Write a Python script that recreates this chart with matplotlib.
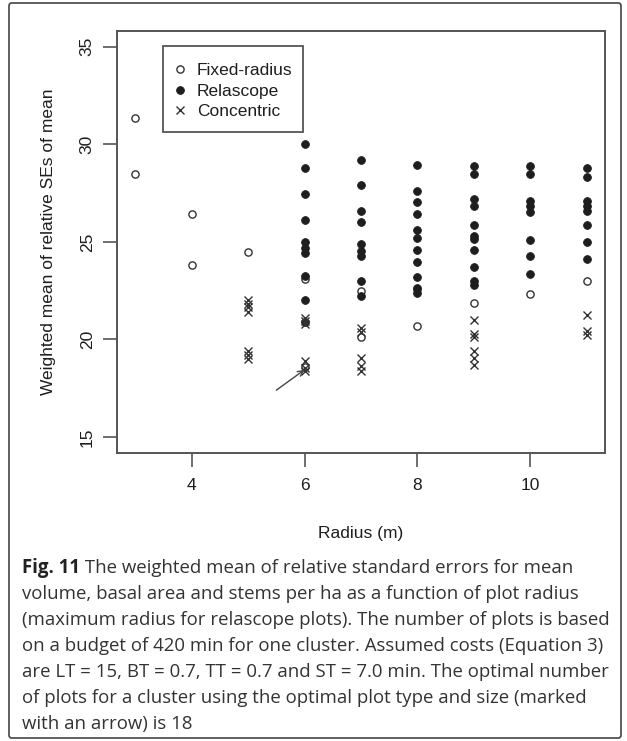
import matplotlib
matplotlib.use("Agg")
import matplotlib.pyplot as plt
from matplotlib.patches import FancyBboxPatch, Rectangle

# data (radius in m, weighted mean of relative SEs)
fixed_x = [3, 3, 4, 4, 5, 6, 6, 7, 7, 8, 8, 9, 10, 11]
fixed_y = [31.35, 28.5, 26.45, 23.8, 24.5, 23.1, 18.6, 22.5, 20.15, 22.6, 20.7, 21.85, 22.35, 23.0]

relas_x = [6] * 10 + [7] * 9 + [8] * 11 + [9] * 11 + [10] * 8 + [11] * 8
relas_y = [30.0, 28.8, 27.45, 26.1, 25.0, 24.7, 24.45, 23.25, 22.0, 20.9,
           29.2, 27.9, 26.6, 26.0, 24.9, 24.55, 24.25, 23.0, 22.25,
           28.95, 27.6, 27.05, 26.45, 25.6, 25.2, 24.6, 23.95, 23.2, 22.65, 22.4,
           28.9, 28.5, 27.2, 26.85, 25.85, 25.3, 25.15, 24.6, 23.7, 23.0, 22.8,
           28.9, 28.45, 27.1, 26.85, 26.55, 25.1, 24.25, 23.35,
           28.8, 28.3, 27.1, 26.85, 26.6, 25.85, 25.0, 24.1]

conc_x = [5] * 7 + [6] * 6 + [7] * 5 + [9] * 6 + [11] * 3
conc_y = [22.0, 21.8, 21.65, 21.4, 19.4, 19.2, 19.0,
          21.1, 20.95, 20.8, 18.9, 18.55, 18.4,
          20.6, 20.4, 19.05, 18.65, 18.4,
          21.0, 20.3, 20.15, 19.4, 19.05, 18.7,
          21.25, 20.45, 20.25]

x_ticks = [4, 6, 8, 10]
y_ticks = [15, 20, 25, 30, 35]
arrow_from = (5.5, 17.4)
arrow_to = (6.0, 18.45)

caption_head = "Fig. 11"
caption_lines = [
    " The weighted mean of relative standard errors for mean",
    "volume, basal area and stems per ha as a function of plot radius",
    "(maximum radius for relascope plots). The number of plots is based",
    "on a budget of 420 min for one cluster. Assumed costs (Equation 3)",
    "are LT = 15, BT = 0.7, TT = 0.7 and ST = 7.0 min. The optimal number",
    "of plots for a cluster using the optimal plot type and size (marked",
    "with an arrow) is 18",
]

W, H = 627, 741
plt.rcParams["font.family"] = ["Liberation Sans", "DejaVu Sans"]
ink = "#1e1e1e"
frame = "#555555"

fig = plt.figure(figsize=(W / 100, H / 100), dpi=100)
ax = fig.add_axes([117 / W, 1 - 452.7 / H, (605 - 117) / W, (452.7 - 31) / H])

h_fixed, = ax.plot(fixed_x, fixed_y, "o", ms=5.2, mfc="white", mec="#333333", mew=1.0,
                   linestyle="none", label="Fixed-radius", zorder=3)
h_relas, = ax.plot(relas_x, relas_y, "o", ms=5.6, mfc=ink, mec=ink, mew=0.6,
                   linestyle="none", label="Relascope", zorder=3)
h_conc, = ax.plot(conc_x, conc_y, "x", ms=6.2, mec="#333333", mew=1.0,
                  linestyle="none", label="Concentric", zorder=3)

ax.annotate("", xy=arrow_to, xytext=arrow_from,
            arrowprops=dict(arrowstyle="->", color="#444444", lw=1.0,
                            mutation_scale=10, shrinkA=0, shrinkB=0))

ax.set_xlim(2.68, 11.32)
ax.set_ylim(14.2, 35.8)
ax.set_xticks(x_ticks)
ax.set_yticks(y_ticks)
ax.set_yticklabels([str(v) for v in y_ticks], rotation=90, va="center")
ax.tick_params(length=10, width=1.2, color=frame, labelsize=12.5, labelcolor=ink, pad=8)
ax.tick_params(axis="y", pad=6)
for s in ax.spines.values():
    s.set_color(frame)
    s.set_linewidth(1.4)
ax.set_xlabel("Radius (m)", fontsize=12.5, color=ink, labelpad=24)
ax.set_ylabel("Weighted mean of relative SEs of mean", fontsize=12.5, color=ink, labelpad=17)

# legend: box drawn separately so its size matches the reference
fig.patches.append(Rectangle((163.3 / W, 1 - 132.3 / H), (302.7 - 163.3) / W, (132.3 - 46) / H,
                             transform=fig.transFigure, fill=False,
                             edgecolor=frame, linewidth=1.3, zorder=5))
leg = ax.legend(handles=[h_fixed, h_relas, h_conc], loc="center left",
                bbox_to_anchor=(174 / W, 1 - 91 / H), bbox_transform=fig.transFigure,
                fontsize=12.5, frameon=False, borderpad=0,
                labelspacing=0.33, handlelength=0.7, handletextpad=0.63, borderaxespad=0)
for t in leg.get_texts():
    t.set_color(ink)

# caption
cap_font = ["Open Sans", "DejaVu Sans"]
cap_size = 13.45
base0 = 573
head = fig.text(22 / W, 1 - base0 / H, caption_head, fontsize=cap_size, fontweight="bold",
                family=cap_font, color="#222222", va="baseline")
fig.canvas.draw()
fig.text(head.get_window_extent().x1 / W, 1 - base0 / H, caption_lines[0], fontsize=cap_size,
         family=cap_font, color="#333333", va="baseline")
for i, line in enumerate(caption_lines[1:], start=1):
    fig.text(22 / W, 1 - (base0 + 26 * i) / H, line, fontsize=cap_size,
             family=cap_font, color="#333333", va="baseline")

# outer frame of the figure panel
fig.patches.append(FancyBboxPatch((9 / W, 3 / H), (621 - 9) / W, (738 - 3) / H,
                                  boxstyle="round,pad=0,rounding_size=0.004",
                                  transform=fig.transFigure, fill=False,
                                  edgecolor="#444444", linewidth=1.2))

fig.savefig("out.png", dpi=100)
